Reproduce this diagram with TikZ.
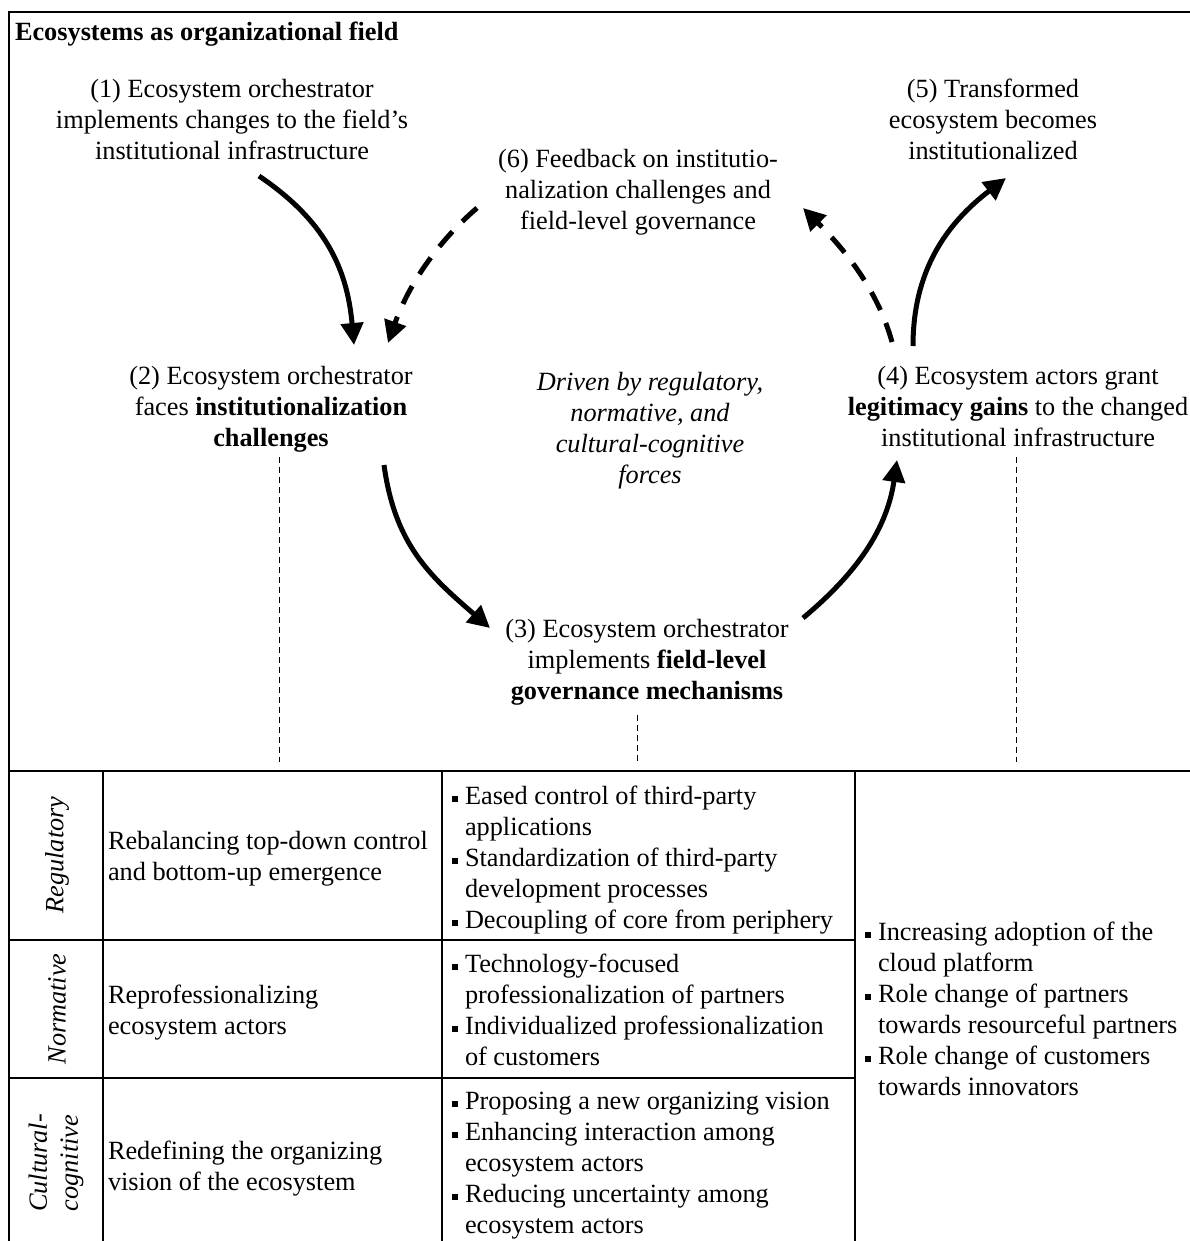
\documentclass[tikz,border=0pt]{standalone}
\usepackage{fontspec}
\setmainfont{Liberation Serif}
\usetikzlibrary{arrows.meta}
\newcommand{\bul}{\makebox[13pt][l]{\rule[0.11em]{0.24em}{0.24em}}}
\newcommand{\ind}{\hspace*{13pt}}
\begin{document}
\begin{tikzpicture}[x=1pt,y=-1pt,
  every node/.style={inner sep=0pt, outer sep=0pt, font=\fontsize{26.3}{31}\selectfont},
  frame/.style={line width=2pt},
  guide/.style={line width=1pt, dash pattern=on 6pt off 4pt},
  flow/.style={line width=5pt, -{Triangle[width=22pt,length=22pt]}},
  feedback/.style={flow, dash pattern=on 20pt off 14pt},
  txt/.style={anchor=north, align=center},
  cell/.style={anchor=north west, align=left},
  dim/.style={rotate=90, font=\fontsize{26.3}{31}\selectfont\itshape, align=center}
]
\useasboundingbox (0,0) rectangle (1190,1241);

% frame and table
\draw[frame] (9,1250) -- (9,12) -- (1200,12);
\draw[frame] (9,771) -- (1200,771);
\draw[frame] (9,940) -- (855,940);
\draw[frame] (9,1078) -- (855,1078);
\draw[frame] (103,771) -- (103,1250);
\draw[frame] (442,771) -- (442,1250);
\draw[frame] (855,771) -- (855,1250);

% title
\node[cell, font=\fontsize{26.3}{31}\selectfont\bfseries] (title) at (15,19) {\strut Ecosystems as organizational field};

% process nodes
\node[txt] (n1) at (232,76) {\strut(1) Ecosystem orchestrator\\implements changes to the field’s\\institutional infrastructure};
\node[txt] (n5) at (993,76) {\strut(5) Transformed\\ecosystem becomes\\institutionalized};
\node[txt] (n6) at (638,146) {\strut(6) Feedback on institutio-\\nalization challenges and\\field-level governance};
\node[txt] (n2) at (271,363) {\strut(2) Ecosystem orchestrator\\faces \textbf{institutionalization}\\\textbf{challenges}};
\node[txt, font=\fontsize{26.3}{31}\selectfont\itshape] (drv) at (650,369) {\strut Driven by regulatory,\\normative, and\\cultural-cognitive\\forces};
\node[txt] (n4) at (1018,363) {\strut(4) Ecosystem actors grant\\\textbf{legitimacy gains} to the changed\\institutional infrastructure};
\node[txt] (n3) at (647,616) {\strut(3) Ecosystem orchestrator\\implements \textbf{field-level}\\\textbf{governance mechanisms}};

% arrow end points
\coordinate (a12s) at (259,176);  \coordinate (a12e) at (354,345);
\coordinate (d62s) at (477,208);  \coordinate (d62e) at (388,343);
\coordinate (a23s) at (384,465);  \coordinate (a23e) at (490,628);
\coordinate (a34s) at (803,618);  \coordinate (a34e) at (897,460);
\coordinate (d46s) at (892,342);  \coordinate (d46e) at (803,208);
\coordinate (a45s) at (913,346);  \coordinate (a45e) at (1006,178);

\draw[flow] (a12s) .. controls (324,220) and (347,267) .. (a12e);
\draw[feedback] (d62s) .. controls (434,245) and (407,289) .. (d62e);
\draw[flow] (a23s) .. controls (395,545) and (430,576) .. (a23e);
\draw[flow] (a34s) .. controls (857,573) and (887,529) .. (a34e);
\draw[feedback] (d46s) .. controls (877,288) and (843,248) .. (d46e);
\draw[flow] (a45s) .. controls (913,271) and (946,224) .. (a45e);

% guide lines
\coordinate (g2s) at (279,457);  \coordinate (g2e) at (279,762);
\coordinate (g3s) at (637,715);  \coordinate (g3e) at (637,762);
\coordinate (g4s) at (1016,457); \coordinate (g4e) at (1016,762);
\draw[guide] (g2s) -- (g2e);
\draw[guide] (g3s) -- (g3e);
\draw[guide] (g4s) -- (g4e);

% table: row labels
\node[dim] (lreg) at (57,855) {Regulatory};
\node[dim] (lnor) at (57,1009) {Normative};
\node[dim] (lcc) at (56,1163) {Cultural-\\cognitive};

% table: second column
\node[cell] (r1a) at (108,828) {\strut Rebalancing top-down control\\and bottom-up emergence};
\node[cell] (r2a) at (108,982) {\strut Reprofessionalizing\\ecosystem actors};
\node[cell] (r3a) at (108,1138) {\strut Redefining the organizing\\vision of the ecosystem};

% table: third column
\node[cell] (r1b) at (452,783) {\strut\bul Eased control of third-party\\\ind applications\\\bul Standardization of third-party\\\ind development processes\\\bul Decoupling of core from periphery};
\node[cell] (r2b) at (452,951) {\strut\bul Technology-focused\\\ind professionalization of partners\\\bul Individualized professionalization\\\ind of customers};
\node[cell] (r3b) at (452,1088) {\strut\bul Proposing a new organizing vision\\\bul Enhancing interaction among\\\ind ecosystem actors\\\bul Reducing uncertainty among\\\ind ecosystem actors};

% table: fourth column
\node[cell] (r4) at (865,919) {\strut\bul Increasing adoption of the\\\ind cloud platform\\\bul Role change of partners\\\ind towards resourceful partners\\\bul Role change of customers\\\ind towards innovators};
\end{tikzpicture}
\end{document}
